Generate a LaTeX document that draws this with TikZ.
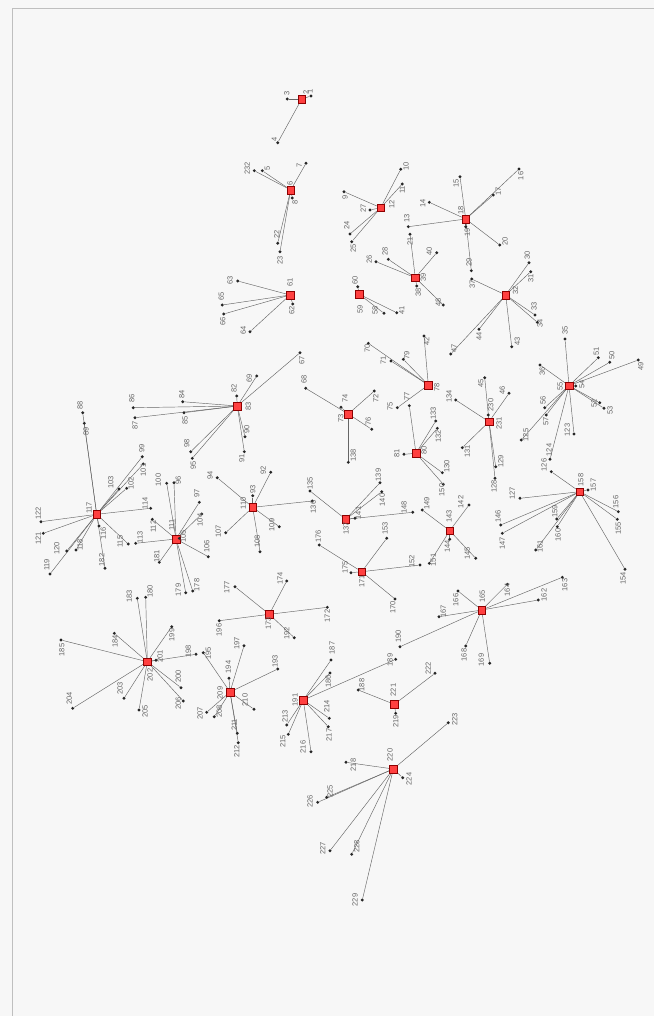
\documentclass[tikz,border=0pt]{standalone}
\usepackage{fontspec}
\setmainfont{Liberation Sans}
\usetikzlibrary{backgrounds}
\tikzset{
  hubn/.style={rectangle,draw=red!55!black,fill=red!75!white,line width=0.4pt,minimum size=7.5pt,inner sep=0pt},
  dotn/.style={circle,fill=black!85,minimum size=3.2pt,inner sep=0pt},
  lab/.style={font=\fontsize{7.5}{7.5}\selectfont,text=black!60,rotate=90,inner sep=0pt},
  edge/.style={draw=black!60,line width=0.45pt},
  pageline/.style={draw=black!25,line width=0.6pt}
}
\newcommand\hb[5]{\node[hubn] (n#1) at (#2,#3) {}; \node[lab] (l#1) at (#4,#5) {#1};}
\newcommand\lf[6]{\node[dotn] (n#1) at (#2,#3) {}; \node[lab] (l#1) at (#4,#5) {#1};
  \begin{pgfonlayer}{background}\draw[edge] (n#6) -- (n#1);\end{pgfonlayer}}
\begin{document}
\begin{tikzpicture}[x=1pt,y=-1pt]
\useasboundingbox (0,0) rectangle (654,1016);
\begin{pgfonlayer}{background}
\fill[black!3] (0,0) rectangle (654,1016);
\draw[pageline] (12,1016) -- (12,8) -- (654,8);
\end{pgfonlayer}
% hubs
\hb{2}{301.7}{99}{306}{92}
\hb{6}{290.7}{190}{290}{183}
\hb{12}{380.7}{207.7}{391.7}{204}
\hb{18}{465.7}{219}{460.7}{210.7}
\hb{39}{415.3}{277.7}{423.3}{277}
\hb{32}{505.7}{295}{515.5}{290}
\hb{61}{290}{295}{290}{282}
\hb{59}{359.3}{294.3}{360}{309}
\hb{78}{428.3}{385}{436.7}{387}
\hb{80}{416}{453.3}{424}{450}
\hb{231}{489}{421.7}{499}{423.3}
\hb{55}{569}{385.7}{560}{386.7}
\hb{158}{579.7}{491.7}{580.7}{480}
\hb{143}{449.7}{530.7}{449}{516.7}
\hb{137}{345.7}{519.3}{346}{528.3}
\hb{110}{252.7}{507.3}{243.3}{503.3}
\hb{73}{348.3}{414}{340.7}{418.3}
\hb{83}{237.3}{406}{248.3}{406.7}
\hb{117}{96.7}{514.3}{89}{508}
\hb{111}{176}{539}{171.7}{525}
\hb{202}{147.3}{661.7}{150}{675}
\hb{209}{230}{692}{220}{693}
\hb{173}{269.3}{614.3}{268.3}{623.3}
\hb{171}{361.7}{571.7}{361.7}{581.7}
\hb{165}{481.7}{610}{482.3}{596.7}
\hb{191}{303.3}{700}{295}{700}
\hb{221}{394.3}{704.3}{393.3}{690}
\hb{220}{393.3}{769}{390}{755}
% leaves
\lf{1}{311}{96}{310}{91}{2}
\lf{3}{287.3}{99}{286.7}{93}{2}
\lf{4}{277.7}{142.7}{274.3}{139.3}{2}
\lf{7}{306}{163.3}{299.3}{165}{6}
\lf{5}{262.3}{170.7}{267.3}{168.5}{6}
\lf{232}{254.3}{170.7}{247.3}{168.3}{6}
\lf{8}{292.3}{198}{295}{202}{6}
\lf{22}{277.7}{243.3}{276.7}{234.3}{6}
\lf{23}{280}{251.7}{280}{260}{6}
\lf{10}{400.7}{169.3}{406}{166}{12}
\lf{11}{402.3}{184}{402.3}{190}{12}
\lf{9}{344}{191.7}{345}{197}{12}
\lf{27}{370}{210}{363.3}{208.3}{12}
\lf{24}{350}{234}{346.7}{225.7}{12}
\lf{25}{351.7}{241.7}{353.3}{248.3}{12}
\lf{15}{460}{176.7}{456}{183}{18}
\lf{16}{519}{169}{520.7}{176}{18}
\lf{17}{493.3}{195}{498.3}{191.7}{18}
\lf{19}{465.7}{226.7}{467.3}{232.7}{18}
\lf{20}{499.7}{245}{505}{241.7}{18}
\lf{29}{471.3}{270.7}{469}{262.7}{18}
\lf{14}{429.3}{202.3}{422.7}{203.3}{18}
\lf{13}{408.3}{226.7}{406.7}{218.3}{18}
\lf{21}{410}{234.3}{410}{241}{39}
\lf{28}{388.3}{259.3}{385}{251.7}{39}
\lf{26}{376}{261.7}{369.3}{259.3}{39}
\lf{40}{436.7}{252.7}{429.3}{251.7}{39}
\lf{38}{416.7}{286}{418.3}{292}{39}
\lf{48}{443.3}{305}{438.3}{302.7}{39}
\lf{30}{529}{262.7}{527.3}{255}{32}
\lf{31}{530.7}{271.7}{530.7}{278.3}{32}
\lf{37}{471.7}{279}{472.3}{284}{32}
\lf{33}{535}{315}{534}{306.7}{32}
\lf{34}{537.3}{322.3}{540}{323.3}{32}
\lf{44}{479}{329.3}{479}{336.7}{32}
\lf{47}{450.7}{354}{454}{348.3}{32}
\lf{43}{511.7}{346.7}{517.3}{341.7}{32}
\lf{62}{292.7}{304}{291.7}{310.7}{61}
\lf{63}{237.7}{281}{230}{280}{61}
\lf{65}{222.3}{305}{221.3}{296.7}{61}
\lf{66}{223.7}{314}{222.7}{321.7}{61}
\lf{64}{250}{331.7}{243.3}{330}{61}
\lf{60}{357.7}{286.7}{355}{280}{59}
\lf{58}{384}{313.3}{375}{310.7}{59}
\lf{41}{396.7}{312.7}{401.7}{310}{59}
\lf{42}{424}{336}{426.7}{341.7}{78}
\lf{70}{368.3}{343.3}{367.3}{348.3}{78}
\lf{71}{391}{361}{383.3}{360}{78}
\lf{79}{403.3}{359.3}{406.7}{355}{78}
\lf{75}{397.3}{407.7}{390}{406.7}{78}
\lf{77}{409.3}{405.7}{406.7}{396.7}{80}
\lf{81}{404}{454.3}{396.7}{453.3}{80}
\lf{133}{435.7}{421}{433.3}{413.3}{80}
\lf{132}{437.3}{428.3}{438.3}{436.7}{80}
\lf{130}{442.3}{472.7}{446.7}{466.7}{80}
\lf{150}{443.3}{484.3}{441.7}{490}{80}
\lf{230}{488.3}{415}{490.7}{405}{231}
\lf{45}{484.7}{377.7}{480.7}{383.3}{231}
\lf{46}{509}{393.3}{502.3}{390}{231}
\lf{134}{455.7}{400}{449}{396.7}{231}
\lf{131}{462.3}{447.7}{467.3}{451.7}{231}
\lf{129}{495.7}{466.7}{500.7}{461.7}{231}
\lf{128}{495}{478.3}{494}{486.7}{231}
\lf{35}{565}{339}{565}{330}{55}
\lf{51}{598.3}{357.7}{596.3}{351}{55}
\lf{50}{609.7}{362.3}{611.7}{355.7}{55}
\lf{49}{638.3}{360}{640.7}{366.7}{55}
\lf{36}{540}{365}{542.3}{371.7}{55}
\lf{54}{575.7}{386}{581.7}{384.3}{55}
\lf{56}{544.7}{407.7}{543}{400}{55}
\lf{57}{546.3}{415}{545.7}{421.7}{55}
\lf{52}{599.7}{402.7}{594}{403.3}{55}
\lf{53}{604}{408.3}{610}{410}{55}
\lf{123}{574}{434}{567.3}{430}{55}
\lf{125}{521.3}{440}{525.7}{435}{55}
\lf{124}{550}{459.3}{549}{450}{55}
\lf{157}{588}{490}{593.3}{485}{158}
\lf{126}{551.3}{471.7}{544}{465}{158}
\lf{127}{520}{498.3}{512.3}{493.3}{158}
\lf{156}{618.3}{511.7}{615.7}{502}{158}
\lf{155}{617.3}{519.3}{618.3}{528.3}{158}
\lf{154}{625}{569.3}{623}{578.3}{158}
\lf{146}{500.7}{525}{498}{516.7}{158}
\lf{147}{502.3}{533.3}{502.3}{543.3}{158}
\lf{159}{556.7}{519}{554.7}{511.7}{158}
\lf{160}{557.3}{526.7}{558}{535}{158}
\lf{161}{535.7}{550}{540}{546.7}{158}
\lf{142}{469}{505}{460.7}{502}{143}
\lf{149}{422.3}{510}{426.7}{503.3}{143}
\lf{144}{449.7}{539.3}{447.3}{546.7}{143}
\lf{145}{475.7}{558.3}{467.3}{553.3}{143}
\lf{151}{429.3}{563.3}{433.3}{560}{143}
\lf{135}{310}{491}{310}{483.3}{137}
\lf{139}{380}{482.7}{378.3}{475}{137}
\lf{140}{381.7}{491.7}{382.3}{500}{137}
\lf{141}{355}{518.3}{358.3}{513}{137}
\lf{148}{412.7}{512.3}{404}{507.3}{137}
\lf{136}{312.3}{501}{313.3}{507}{110}
\lf{93}{252.7}{495.7}{252.7}{489.3}{110}
\lf{92}{270.7}{472.3}{263.3}{470}{110}
\lf{94}{217.3}{477.7}{210}{475}{110}
\lf{107}{225.7}{532.7}{218.3}{531.7}{110}
\lf{109}{279.3}{526.7}{271.7}{525}{110}
\lf{108}{260}{551.7}{257.3}{541.7}{110}
\lf{74}{341}{407.3}{345}{398.3}{73}
\lf{68}{305.7}{388.3}{304}{379.3}{73}
\lf{72}{374.3}{391}{375.7}{398.3}{73}
\lf{76}{371.7}{429.3}{368.3}{421}{73}
\lf{138}{348.3}{462.3}{353.3}{455.7}{73}
\lf{82}{236.7}{396}{234}{388.3}{83}
\lf{69}{256.7}{376}{249.3}{378.3}{83}
\lf{67}{300}{352.7}{301.7}{360}{83}
\lf{90}{245}{436.7}{246.7}{429}{83}
\lf{91}{244.3}{451.7}{241.7}{458.3}{83}
\lf{84}{182.7}{401.7}{181.7}{394}{83}
\lf{86}{133.3}{407.7}{131.7}{398.3}{83}
\lf{87}{135}{417.7}{135}{425}{83}
\lf{85}{184}{412.7}{185}{420}{83}
\lf{98}{190.7}{451.7}{186.7}{443.3}{83}
\lf{95}{192.3}{458.3}{193.3}{465}{83}
\lf{88}{82.7}{412.7}{80}{405}{117}
\lf{89}{84.3}{423.3}{86}{431.7}{117}
\lf{99}{142.3}{456.7}{141.7}{448.3}{117}
\lf{101}{143.3}{464}{143.3}{470}{117}
\lf{103}{119}{489}{110.7}{482.3}{117}
\lf{102}{126.7}{488.3}{131}{483.3}{117}
\lf{114}{150.7}{508.3}{145}{503.3}{117}
\lf{122}{41}{521.7}{38.3}{513.3}{117}
\lf{121}{43.3}{533.3}{38.3}{538.3}{117}
\lf{120}{66.7}{551}{56.7}{548.3}{117}
\lf{119}{50}{574}{46.7}{565}{117}
\lf{118}{76}{550}{80}{545}{117}
\lf{116}{99}{526}{103.3}{533.3}{117}
\lf{182}{105}{568.3}{101.7}{560}{117}
\lf{115}{128.3}{544}{120}{541.7}{117}
\lf{113}{135.7}{543.3}{140}{537.3}{111}
\lf{105}{179.3}{538.3}{183.3}{536.7}{111}
\lf{100}{166.7}{483.3}{158.3}{480}{111}
\lf{96}{174}{482.7}{178.3}{480}{111}
\lf{97}{199.3}{502.3}{196.7}{493.3}{111}
\lf{104}{201.7}{514}{200}{520}{111}
\lf{112}{152.3}{519.3}{153.3}{526.7}{111}
\lf{106}{208.3}{556.7}{206.7}{546.7}{111}
\lf{181}{159.3}{562.3}{156.7}{556.7}{111}
\lf{179}{185.7}{592.7}{178.3}{590}{111}
\lf{178}{192.7}{591}{196.7}{585}{111}
\lf{183}{137.3}{598.3}{129.3}{596.7}{202}
\lf{180}{145.7}{597.3}{150}{591.7}{202}
\lf{185}{61}{640}{61.7}{650}{202}
\lf{184}{114.3}{633.3}{115}{641.7}{202}
\lf{199}{171.7}{626.7}{171.7}{635}{202}
\lf{201}{156}{660.3}{160}{656.7}{202}
\lf{198}{196}{654.3}{188.3}{651.7}{202}
\lf{200}{181}{687.7}{178.3}{676.7}{202}
\lf{203}{124}{698.3}{120}{688.3}{202}
\lf{204}{72.7}{708.3}{69.3}{698.3}{202}
\lf{205}{139}{710}{145}{711.7}{202}
\lf{206}{183.3}{701}{178.3}{703.3}{202}
\lf{194}{229}{678.3}{228.3}{667}{209}
\lf{195}{203.3}{652.7}{208.3}{653.3}{209}
\lf{197}{244}{645.7}{236.7}{643.3}{209}
\lf{193}{277.7}{669}{275}{661.7}{209}
\lf{210}{254}{709.3}{245}{700}{209}
\lf{207}{206.7}{712.3}{200}{713.3}{209}
\lf{208}{214.3}{716.7}{219.3}{711.7}{209}
\lf{211}{237.3}{733.3}{234.3}{725}{209}
\lf{212}{238.3}{742.7}{236.7}{751.7}{209}
\lf{174}{286.7}{581}{280}{578.3}{173}
\lf{177}{235}{586.7}{226.7}{587.3}{173}
\lf{172}{327.3}{607.3}{327.3}{616}{173}
\lf{192}{294.3}{637.7}{286.7}{633.3}{173}
\lf{196}{219.3}{620.7}{219}{630}{173}
\lf{176}{319.3}{545}{318.3}{536.7}{171}
\lf{153}{386.7}{538.3}{385}{528.3}{171}
\lf{175}{351}{572.7}{345}{567.7}{171}
\lf{152}{420}{565}{411.7}{561.7}{171}
\lf{170}{395}{599}{392.7}{607.3}{171}
\lf{166}{458}{591}{455.7}{600}{165}
\lf{164}{507.3}{584.3}{507.3}{590}{165}
\lf{163}{562.3}{577.3}{564.7}{585}{165}
\lf{162}{538.3}{600}{544}{595}{165}
\lf{167}{439}{616.7}{443.3}{611.7}{165}
\lf{168}{465.7}{646}{464}{655}{165}
\lf{169}{489.7}{663.3}{481.3}{660}{165}
\lf{190}{400}{646.7}{398.3}{636.7}{165}
\lf{187}{331}{660}{332}{648}{191}
\lf{186}{330}{673}{328.3}{681.7}{191}
\lf{189}{395.7}{659.3}{390}{660}{191}
\lf{214}{329.3}{718.3}{326.7}{706.7}{191}
\lf{213}{286.7}{725}{285}{716.7}{191}
\lf{215}{288.3}{734.3}{282.7}{741.7}{191}
\lf{216}{311}{751.7}{303}{747}{191}
\lf{217}{328.3}{726.7}{329}{735}{191}
\lf{222}{435}{673.3}{428.3}{668.3}{221}
\lf{188}{358.3}{690}{361.7}{685}{221}
\lf{219}{395.7}{713.3}{395.7}{721.7}{221}
\lf{218}{346}{762.3}{353.3}{765}{220}
\lf{223}{448.3}{722.7}{454.7}{719.3}{220}
\lf{224}{402.7}{777.7}{409}{779}{220}
\lf{225}{326.7}{797.3}{330}{791.7}{220}
\lf{226}{317.7}{802.3}{310}{801.7}{220}
\lf{227}{330}{850.7}{322.7}{848.3}{220}
\lf{228}{351.7}{854.3}{356.7}{846.7}{220}
\lf{229}{362.3}{900}{355}{900}{220}
\end{tikzpicture}
\end{document}
